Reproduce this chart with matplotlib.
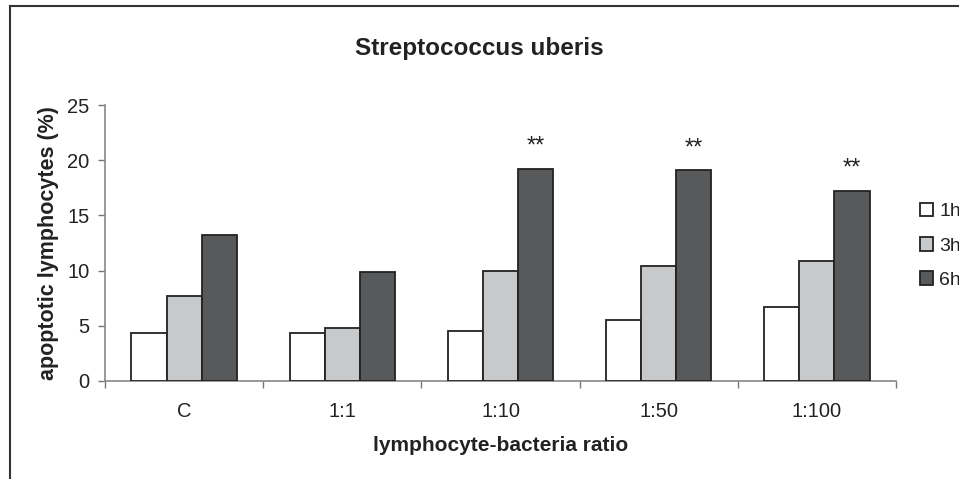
import numpy as np
import matplotlib.pyplot as plt

# dane
categories = ["C", "1:1", "1:10", "1:50", "1:100"]
series_names = ["1h", "3h", "6h"]
h1 = [4.3, 4.3, 4.55, 5.55, 6.7]
h3 = [7.7, 4.75, 10.0, 10.45, 10.85]
h6 = [13.2, 9.9, 19.25, 19.1, 17.25]
stars = ["", "", "**", "**", "**"]

colors = ["#ffffff", "#c8c9cb", "#58595b"]


def main():
    plt.rcParams["font.family"] = ["Liberation Sans", "DejaVu Sans"]

    fig = plt.figure(figsize=(9.59, 4.79), dpi=100)
    ax = fig.add_axes([0.1095, 0.2052, 0.8248, 0.575])

    x = np.arange(len(categories))
    w = 0.222
    values = [h1, h3, h6]
    for i, (vals, col, name) in enumerate(zip(values, colors, series_names)):
        ax.bar(x + (i - 1) * w, vals, w, color=col, edgecolor="#222222",
               linewidth=1.3, label=name, zorder=3)

    # gwiazdki nad słupkami 6h
    for xi, v, s in zip(x, h6, stars):
        if s:
            ax.text(xi + w, v + 1.0, s, ha="center", va="bottom", fontsize=17,
                    color="#222222")

    ax.set_xlim(-0.5, len(categories) - 0.5)
    ax.set_ylim(0, 25)
    ax.set_yticks([0, 5, 10, 15, 20, 25])
    ax.set_xticks(x)
    ax.set_xticklabels(categories)
    ax.set_xticks(np.arange(-0.5, len(categories)), minor=True)
    ax.tick_params(axis="x", which="major", length=0, pad=15, labelsize=14.5,
                   colors="#222222")
    ax.tick_params(axis="x", which="minor", length=5, width=1,
                   color="#777777", direction="out")
    ax.tick_params(axis="y", length=5, width=1, color="#777777",
                   labelsize=14.5, labelcolor="#222222", pad=6)

    for side in ["top", "right"]:
        ax.spines[side].set_visible(False)
    for side in ["left", "bottom"]:
        ax.spines[side].set_color("#888888")
        ax.spines[side].set_linewidth(1.2)

    ax.set_xlabel("lymphocyte-bacteria ratio", fontsize=15, fontweight="bold",
                  labelpad=11, color="#222222")
    ax.set_ylabel("apoptotic lymphocytes (%)", fontsize=15.5, fontweight="bold",
                  labelpad=6, color="#222222")
    fig.text(0.5, 0.898, "Streptococcus uberis", ha="center", va="center",
             fontsize=17.5, fontweight="bold", color="#222222")

    leg = ax.legend(loc="center left", bbox_to_anchor=(1.03, 0.49),
                    borderaxespad=0, borderpad=0,
                    frameon=False, fontsize=14, handlelength=0.7,
                    handleheight=0.7, handletextpad=0.3, labelspacing=0.85)
    for t in leg.get_texts():
        t.set_color("#222222")

    # ramka wokół wykresu (lewa i górna krawędź)
    fig.add_artist(plt.Line2D([0.0105, 0.0105], [0, 0.9865],
                              transform=fig.transFigure, color="#333333", lw=1.5))
    fig.add_artist(plt.Line2D([0.0105, 1.0], [0.9865, 0.9865],
                              transform=fig.transFigure, color="#333333", lw=1.5))

    fig.savefig("out.png", dpi=100)


if __name__ == "__main__":
    main()
